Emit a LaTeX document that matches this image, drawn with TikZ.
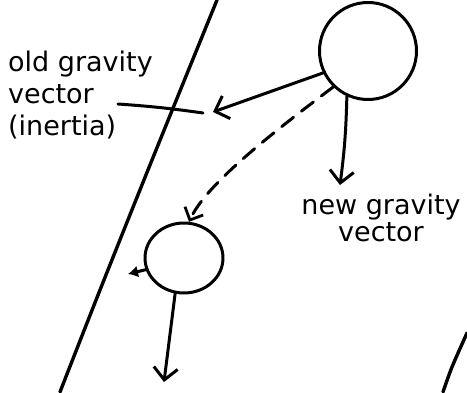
\documentclass[tikz,border=0pt]{standalone}
\usepackage{fontspec}
\setmainfont{DejaVu Sans}
\usetikzlibrary{arrows.meta,shapes.geometric}
\begin{document}
\begin{tikzpicture}[x=1pt,y=1pt,
  ink/.style={line width=3pt,line cap=round,line join=round},
  barb/.style={-{Straight Barb[length=12pt,width=24pt,line width=3pt]}},
  smallbarb/.style={-{Straight Barb[length=10pt,width=20pt,line width=2.8pt]}},
  dot/.style={-{Latex[length=10pt,width=12pt]}},
  ball/.style={draw,ink,circle,inner sep=0pt},
  lbl/.style={font=\fontsize{27}{32}\selectfont,inner sep=0pt}]
\useasboundingbox (0,0) rectangle (467,392);
% boundaries
\draw[ink,line width=3.4pt] plot[smooth] coordinates {(60,0) (100,102) (152,232) (217,392)};
\draw[ink,line width=3.4pt] plot[smooth] coordinates {(443,0) (452,25) (467,59)};
% balls
\node[ball,minimum size=97pt] (big) at (368,341) {};
\node[ball,ellipse,minimum width=78pt,minimum height=70pt] (small) at (184,134) {};
% coordinates
\coordinate (inertiatip) at (213,280);
\coordinate (newtip) at (340,207);
\coordinate (lefttip) at (128,118);
\coordinate (downtip) at (164,10);
\coordinate (ptrA) at (118,288);
\coordinate (ptrB) at (203,279);
% arrows
\draw[ink,barb] (big.206) -- (inertiatip);
\draw[ink,barb] (big.245) to[bend left=3] (newtip);
\draw[ink,dash pattern=on 15pt off 10pt,smallbarb] (big.226) .. controls (260,250) and (205,205) .. (small.82);
\draw[ink,dot] (small.197) -- (lefttip);
\draw[ink,barb] (small.256) -- (downtip);
% labels
\node[lbl,align=center,anchor=north,font=\fontsize{27}{27}\selectfont] (newlbl) at (381,198) {new gravity\\vector};
\node[lbl,align=left,anchor=north west] (oldlbl) at (8,341) {old gravity\\vector\\(inertia)};
\draw[ink] (ptrA) to[bend left=2] (ptrB);
\end{tikzpicture}
\end{document}
